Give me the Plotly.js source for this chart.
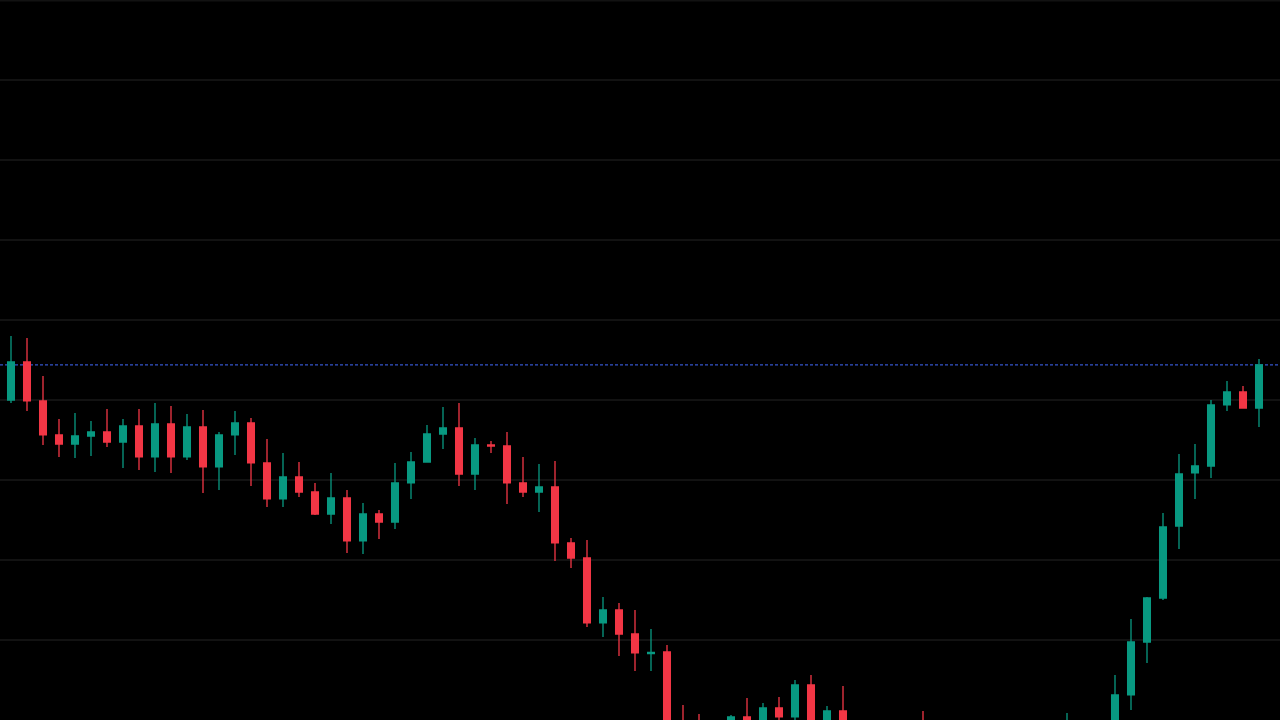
<!DOCTYPE html>
<html>
<head>
<meta charset="utf-8">
<script src="https://cdn.plot.ly/plotly-3.0.1.min.js"></script>
<style>
  html, body { margin: 0; padding: 0; background: #000; }
  #chart { width: 1280px; height: 720px; }
</style>
</head>
<body>
<div id="chart"></div>
<script>
const openP = [140.00,144.75,139.88,135.63,134.50,135.50,136.00,134.75,136.75,132.88,
  137.00,132.88,136.63,131.63,135.63,137.13,132.13,127.63,130.38,128.50,
  125.75,127.75,122.38,125.75,124.75,129.63,132.25,135.75,136.50,130.75,
  134.38,134.25,129.63,128.50,129.13,122.13,120.25,112.13,113.75,110.75,
  108.31,108.50,99.50,99.25,97.00,97.50,100.38,98.00,101.50,100.38,
  104.38,98.75,101.13,97.75,96.25,97.50,96.75,98.25,96.50,97.25,
  96.00,97.75,96.75,98.25,97.00,98.00,96.25,98.50,99.00,99.50,
  103.13,109.75,115.25,124.25,130.88,131.75,139.38,141.00,139.00];
const highP = [148.00,147.75,143.00,137.63,138.38,137.38,138.88,137.63,138.88,139.63,
  139.25,138.25,138.75,136.00,138.63,137.75,135.13,133.38,132.25,129.63,
  130.88,128.75,127.13,126.25,132.13,133.50,136.88,139.13,139.63,135.25,
  134.88,136.00,132.88,132.00,132.38,122.75,122.50,115.38,114.63,113.75,
  111.38,109.38,101.88,100.75,99.50,100.63,102.75,102.13,102.88,105.00,
  105.63,101.75,104.25,99.00,98.50,99.25,98.75,101.13,98.00,98.75,
  97.75,99.00,98.50,99.25,98.75,99.50,100.88,99.50,99.75,105.63,
  112.63,115.38,125.88,133.25,134.50,140.00,142.38,141.75,145.13];
const lowP = [139.63,138.63,134.38,132.88,132.75,133.00,134.13,131.50,131.25,131.00,
  130.88,132.50,128.38,128.75,133.13,129.25,126.63,126.63,127.88,125.63,
  124.50,120.88,120.75,122.63,123.88,127.63,132.25,133.88,129.25,128.75,
  133.38,127.00,127.88,126.00,119.88,119.00,111.63,110.38,108.00,106.13,
  106.13,97.25,95.50,95.00,95.50,96.50,97.00,97.25,98.50,99.75,
  97.75,97.50,96.50,95.50,94.75,96.00,95.25,95.75,95.00,95.50,
  94.75,95.75,95.25,96.25,95.50,96.00,95.50,97.00,97.50,98.75,
  101.25,107.13,115.00,121.38,127.63,130.25,138.63,139.00,136.63];
const closeP = [144.75,139.88,135.63,134.50,135.50,136.00,134.75,136.75,132.88,137.00,
  132.88,136.63,131.63,135.63,137.13,132.13,127.63,130.38,128.50,125.75,
  127.75,122.38,125.75,124.75,129.63,132.25,135.75,136.50,130.75,134.38,
  134.25,129.63,128.50,129.13,122.13,120.25,112.13,113.75,110.75,108.38,
  108.44,98.13,96.50,96.00,98.50,100.38,98.00,101.50,100.38,104.38,
  98.75,101.13,97.75,96.25,97.50,96.75,98.00,96.50,97.25,96.00,
  97.75,96.75,98.25,97.00,98.00,96.25,98.50,99.00,99.50,103.13,
  109.75,115.25,124.13,130.75,131.75,139.38,141.00,139.00,144.38];
const barIndex = openP.map((_, i) => i);

const upColor = '#089981';
const downColor = '#F23645';
const gridColor = '#121212';
const lastClose = closeP[closeP.length - 1];

const trace = {
  type: 'candlestick',
  x: barIndex,
  open: openP, high: highP, low: lowP, close: closeP,
  increasing: { line: { color: upColor, width: 1.3 }, fillcolor: upColor },
  decreasing: { line: { color: downColor, width: 1.3 }, fillcolor: downColor },
  whiskerwidth: 0,
  hoverinfo: 'none',
  showlegend: false
};

const layout = {
  width: 1280, height: 720,
  margin: { l: 0, r: 0, t: 0, b: 0, pad: 0 },
  paper_bgcolor: '#000000',
  plot_bgcolor: '#000000',
  boxgap: 0.4,
  xaxis: {
    range: [-0.6875, 79.3125],
    showgrid: false, zeroline: false, showticklabels: false, ticks: '',
    showline: false, rangeslider: { visible: false }, fixedrange: true
  },
  yaxis: {
    range: [100, 190],
    dtick: 10, tick0: 100,
    showgrid: true, gridcolor: gridColor, gridwidth: 1.5,
    zeroline: false, showticklabels: false, ticks: '', showline: false,
    fixedrange: true
  },
  shapes: [
    {
      type: 'line', xref: 'paper', x0: 0, x1: 1, yref: 'paper', y0: 0.999, y1: 0.999,
      line: { color: gridColor, width: 1.5 }, layer: 'below'
    },
    {
      type: 'line', xref: 'paper', x0: 0, x1: 1, yref: 'y', y0: lastClose, y1: lastClose,
      line: { color: '#3454cc', width: 1.3, dash: '3px,2px' }, layer: 'below'
    }
  ]
};

Plotly.newPlot('chart', [trace], layout, { staticPlot: true, displayModeBar: false });
</script>
</body>
</html>
